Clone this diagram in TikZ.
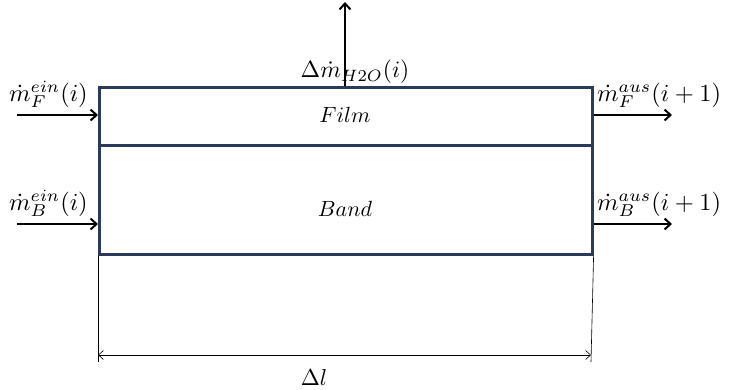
\documentclass[tikz,border=0pt]{standalone}
\usepackage{graphicx}
\usetikzlibrary{arrows.meta}
\definecolor{boxblue}{HTML}{2B3A58}
\newcommand{\lblsc}[2]{\scalebox{#1}{$#2$}}
\tikzset{
  layer/.style={draw=boxblue, line width=2.6pt, minimum width=493pt, inner sep=0pt, anchor=north west},
  flow/.style={line width=2.2pt, -{Straight Barb[length=6pt,width=11pt,line width=2pt]}},
  dimline/.style={line width=0.6pt},
  lbl/.style={inner sep=0pt}
}
\begin{document}
\begin{tikzpicture}[x=1pt,y=-1pt]
\useasboundingbox (0,0) rectangle (729,389);
\node[layer, minimum height=58pt] (film) at (98,86) {};
\node[layer, minimum height=109pt] (band) at (98,144) {};
\node[lbl] (tfilm) at (345,115) {\lblsc{2.2}{Film}};
\node[lbl] (tband) at (345,208.5) {\lblsc{2.2}{Band}};
% H2O
\coordinate (top) at (345,2);
\draw[flow] (film.north -| top) -- (top);
\node[lbl, anchor=south] (h2o) at (355,84) {\lblsc{2.35}{\Delta\dot m_{H2O}(i)}};
% inputs
\coordinate (fin) at (17,115);
\coordinate (bin) at (17,224);
\draw[flow] (fin) -- (fin -| film.west);
\draw[flow] (bin) -- (bin -| band.west);
\node[lbl, anchor=south west] (lfin) at (9,108) {\lblsc{2.45}{\dot m_F^{ein}(i)}};
\node[lbl, anchor=south west] (lbin) at (9,217) {\lblsc{2.45}{\dot m_B^{ein}(i)}};
% outputs
\coordinate (fout) at (672,115);
\coordinate (bout) at (672,224);
\draw[flow] (fout -| film.east) -- (fout);
\draw[flow] (bout -| band.east) -- (bout);
\node[lbl, anchor=south west] (lfout) at (597,108) {\lblsc{2.45}{\dot m_F^{aus}(i+1)}};
\node[lbl, anchor=south west] (lbout) at (597,217) {\lblsc{2.45}{\dot m_B^{aus}(i+1)}};
% dimension
\coordinate (dl) at (98,362);
\coordinate (dr) at (591,362);
\draw[dimline] (band.south west) -- (dl);
\draw[dimline] (band.south east) -- (dr);
\coordinate (al) at (98,355);
\coordinate (ar) at (591,355);
\draw[dimline, {Straight Barb[length=5pt,width=9pt]}-{Straight Barb[length=5pt,width=9pt]}] (al) -- (ar);
\node[lbl] (dlen) at (314,378) {\lblsc{2.3}{\Delta l}};
\end{tikzpicture}
\end{document}
